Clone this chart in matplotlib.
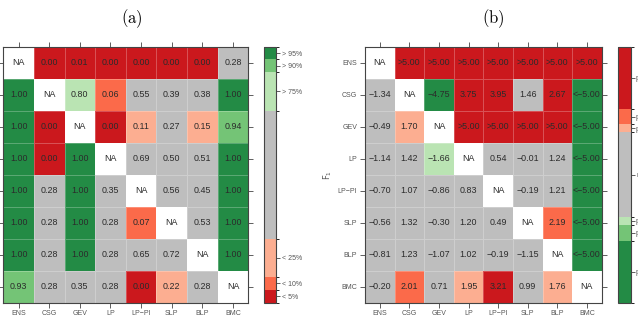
import numpy as np
import matplotlib
matplotlib.use("Agg")
import matplotlib.pyplot as plt
from matplotlib.colors import ListedColormap, BoundaryNorm
from matplotlib.cm import ScalarMappable

plt.rcParams['font.family'] = ['Liberation Sans', 'DejaVu Sans']

methods = ['ENS', 'CSG', 'GEV', 'LP', 'LP\u2212PI', 'SLP', 'BLP', 'BMC']
NA = np.nan

# panel (a): p-values / percentages, rows top to bottom
pvals = np.array([
    [NA, 0.00, 0.01, 0.00, 0.00, 0.00, 0.00, 0.28],
    [1.00, NA, 0.80, 0.06, 0.55, 0.39, 0.38, 1.00],
    [1.00, 0.00, NA, 0.00, 0.11, 0.27, 0.15, 0.94],
    [1.00, 0.00, 1.00, NA, 0.69, 0.50, 0.51, 1.00],
    [1.00, 0.28, 1.00, 0.35, NA, 0.56, 0.45, 1.00],
    [1.00, 0.28, 1.00, 0.28, 0.07, NA, 0.53, 1.00],
    [1.00, 0.28, 1.00, 0.28, 0.65, 0.72, NA, 1.00],
    [0.93, 0.28, 0.35, 0.28, 0.00, 0.22, 0.28, NA],
])

# panel (b): F1 statistics (inf means beyond +/-5)
inf = np.inf
fstats = np.array([
    [NA, inf, inf, inf, inf, inf, inf, inf],
    [-1.34, NA, -4.75, 3.75, 3.95, 1.46, 2.67, -inf],
    [-0.49, 1.70, NA, inf, inf, inf, inf, -inf],
    [-1.14, 1.42, -1.66, NA, 0.54, -0.01, 1.24, -inf],
    [-0.70, 1.07, -0.86, 0.83, NA, -0.19, 1.21, -inf],
    [-0.56, 1.32, -0.30, 1.20, 0.49, NA, 2.19, -inf],
    [-0.81, 1.23, -1.07, 1.02, -0.19, -1.15, NA, -inf],
    [-0.20, 2.01, 0.71, 1.95, 3.21, 0.99, 1.76, NA],
])

colors_a = ['#CB181D', '#FB6A4A', '#FCAE91', '#BEBEBE', '#BAE4B3', '#74C476', '#238B45']
bounds_a = [0, 0.05, 0.10, 0.25, 0.75, 0.90, 0.95, 1.0]
ticks_a = [0.025, 0.075, 0.175, 0.825, 0.925, 0.975]
labels_a = ['< 5%', '< 10%', '< 25%', '> 75%', '> 90%', '> 95%']

colors_b = ['#238B45', '#74C476', '#BAE4B3', '#BEBEBE', '#FCAE91', '#FB6A4A', '#CB181D']
bounds_b = [-5, -2.576, -1.96, -1.645, 1.645, 1.96, 2.576, 5]
labels_b = ['p < 0.01', 'p < 0.05', 'p < 0.10', 'n.s.', 'p < 0.10', 'p < 0.05', 'p < 0.01']

W, H = 638, 319
fig = plt.figure(figsize=(W / 100, H / 100), dpi=100)


def px(x0, x1, y0, y1):
    return [x0 / W, 1 - y1 / H, (x1 - x0) / W, (y1 - y0) / H]


frame = '#444444'


def heat(ax, data, colors, bounds, fmt, labelleft):
    cmap = ListedColormap(colors)
    cmap.set_bad('white')
    norm = BoundaryNorm(bounds, cmap.N, clip=True)
    shown = np.clip(data, bounds[0], bounds[-1])
    ax.pcolormesh(np.ma.masked_invalid(shown), cmap=cmap, norm=norm,
                  edgecolors=(1, 1, 1, 0.25), linewidth=0.4)
    ax.set_xlim(0, 8)
    ax.set_ylim(8, 0)
    for i in range(8):
        for j in range(8):
            ax.text(j + 0.5, i + 0.5, fmt(data[i, j]), ha='center', va='center',
                    fontsize=6.4, color='#2b2b2b')
    ax.set_xticks(np.arange(8) + 0.5)
    ax.set_yticks(np.arange(8) + 0.5)
    ax.set_xticklabels(methods)
    ax.set_yticklabels(methods)
    ax.tick_params(top=True, right=True, labeltop=False, labelright=False,
                   labelleft=labelleft, direction='out', length=3.5, width=0.6,
                   color=frame, labelsize=5, labelcolor='#555555', pad=2)
    for s in ax.spines.values():
        s.set_color(frame)
        s.set_linewidth(0.8)
    return cmap, norm


def fmt_a(v):
    return 'NA' if np.isnan(v) else f'{v:.2f}'


def fmt_b(v):
    if np.isnan(v):
        return 'NA'
    if v == inf:
        return '>5.00'
    if v == -inf:
        return '<\u22125.00'
    return f'{v:.2f}'.replace('-', '\u2212')


def cbar(cax, cmap, norm, ticks, labels):
    cb = fig.colorbar(ScalarMappable(norm=norm, cmap=cmap), cax=cax,
                      spacing='proportional', ticks=ticks)
    cb.set_ticklabels(labels)
    cb.outline.set_edgecolor(frame)
    cb.outline.set_linewidth(0.8)
    cax.tick_params(direction='out', length=2.6, width=0.6, color=frame,
                    labelsize=5, labelcolor='#555555', pad=1.5)


ax_a = fig.add_axes(px(3.3, 248.3, 46.6, 302.6))
cmap_a, norm_a = heat(ax_a, pvals, colors_a, bounds_a, fmt_a, False)
cax_a = fig.add_axes(px(264.3, 276.0, 46.6, 302.6))
cbar(cax_a, cmap_a, norm_a, ticks_a, labels_a)

ax_b = fig.add_axes(px(365.0, 601.7, 46.6, 302.6))
cmap_b, norm_b = heat(ax_b, fstats, colors_b, bounds_b, fmt_b, True)
cax_b = fig.add_axes(px(618.3, 630.7, 46.6, 302.6))
ticks_b = [(bounds_b[k] + bounds_b[k + 1]) / 2 for k in range(7)]
cbar(cax_b, cmap_b, norm_b, ticks_b, labels_b)

fig.text(131.5 / W, 1 - 19 / H, r'$\mathrm{(a)}$', ha='center', va='center',
         fontsize=12, math_fontfamily='cm')
fig.text(493 / W, 1 - 19 / H, r'$\mathrm{(b)}$', ha='center', va='center',
         fontsize=12, math_fontfamily='cm')
fig.text(327.5 / W, 1 - 175 / H, r'$\mathsf{F}_1$', ha='center', va='center',
         rotation=90, fontsize=6, color='#555555')

fig.savefig('out.png', dpi=100)
